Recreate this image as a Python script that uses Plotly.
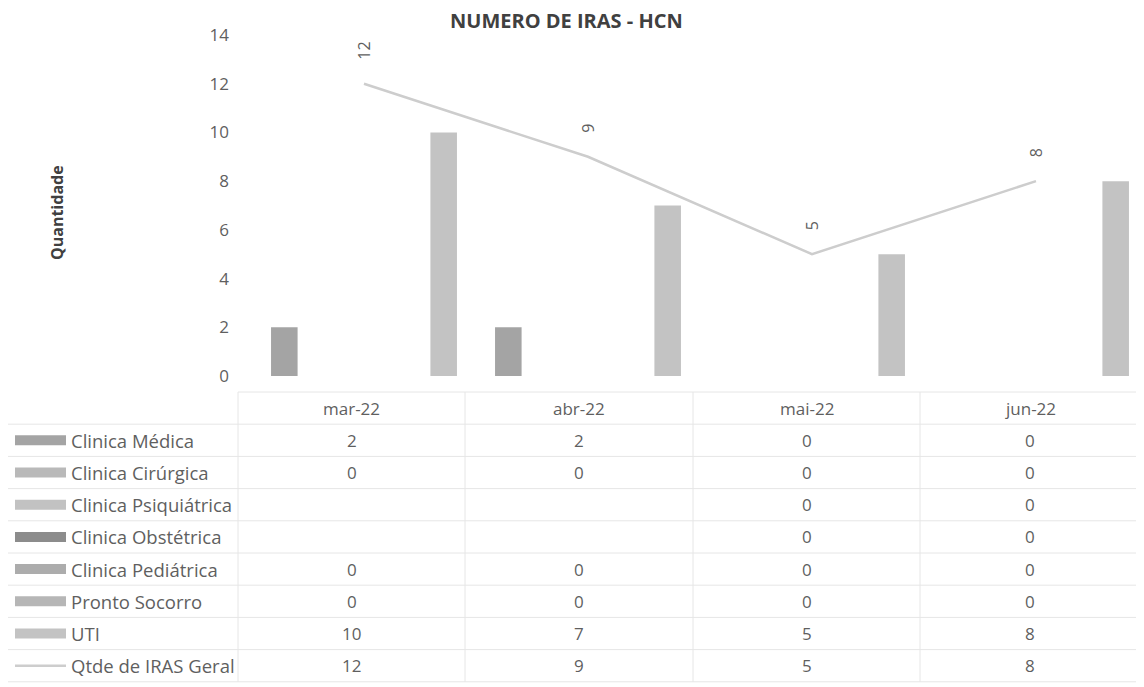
import plotly.graph_objects as go

W, H = 1144, 687
OFF = 8  # default page margin of the html body

months = ["mar-22", "abr-22", "mai-22", "jun-22"]
series_names = ["Clinica Médica", "Clinica Cirúrgica", "Clinica Psiquiátrica",
                "Clinica Obstétrica", "Clinica Pediátrica", "Pronto Socorro", "UTI"]
clinica_medica = [2, 2, 0, 0]
clinica_cirurgica = [0, 0, 0, 0]
clinica_psiquiatrica = [None, None, 0, 0]
clinica_obstetrica = [None, None, 0, 0]
clinica_pediatrica = [0, 0, 0, 0]
pronto_socorro = [0, 0, 0, 0]
uti = [10, 7, 5, 8]
line_name = "Qtde de IRAS Geral"
qtde_geral = [12, 9, 5, 8]

series_values = [clinica_medica, clinica_cirurgica, clinica_psiquiatrica,
                 clinica_obstetrica, clinica_pediatrica, pronto_socorro, uti]
bar_colors = ["#a4a4a4", "#b9b9b9", "#c2c2c2", "#8c8c8c", "#acacac", "#b6b6b6", "#c3c3c3"]
line_color = "#cdcdcd"

FONT = "'Open Sans', sans-serif"
TXT = "#5f5f5f"
DARK = "#404040"


def px(x):
    return (x - OFF) / W


def py(y):
    return 1 - (y - OFF) / H


plot_left, plot_top, plot_bottom = 252, 35, 376
cat_w = 224

fig = go.Figure()
for name, vals, col in zip(series_names, series_values, bar_colors):
    fig.add_trace(go.Bar(x=months, y=vals, name=name, marker=dict(color=col, line=dict(width=0)),
                         showlegend=False))
fig.add_trace(go.Scatter(x=months, y=qtde_geral, name=line_name, mode="lines",
                         line=dict(color=line_color, width=2.5), showlegend=False))

# rotated data labels for the line
for m, v in zip(months, qtde_geral):
    s = str(v)
    fig.add_annotation(x=m, y=v, xref="x", yref="y", text=s, showarrow=False,
                       textangle=-90, yshift=23 + 5 * len(s),
                       font=dict(family=FONT, size=16, color=TXT))

n_cats = (W + OFF - plot_left) / cat_w
fig.update_layout(
    width=W, height=H,
    margin=dict(l=0, r=0, t=0, b=0),
    paper_bgcolor="white", plot_bgcolor="white",
    barmode="group", bargap=0.17, bargroupgap=0,
    font=dict(family=FONT, color=TXT),
    xaxis=dict(domain=[px(plot_left), 1], range=[-0.5, -0.5 + n_cats],
               showticklabels=False, showgrid=False, zeroline=False, showline=False,
               ticks="", automargin=False, type="category"),
    yaxis=dict(domain=[py(plot_bottom), py(plot_top)], range=[0, 14], dtick=2,
               showgrid=False, zeroline=False, showline=False, ticks="",
               tickfont=dict(family=FONT, size=17, color=TXT),
               ticklabelstandoff=22, automargin=False),
)

# title & y title
fig.add_annotation(x=px(566), y=py(20), xref="paper", yref="paper", text="<b>NUMERO DE IRAS - HCN</b>",
                   showarrow=False, font=dict(family=FONT, size=20, color=DARK),
                   xanchor="center", yanchor="middle", borderpad=0)
fig.add_annotation(x=px(57), y=py(213), xref="paper", yref="paper", text="<b>Quantidade</b>",
                   showarrow=False, textangle=-90, font=dict(family=FONT, size=16, color=DARK),
                   xanchor="center", yanchor="middle")

# data table
grid = "#e6e6e6"
col_edges = [238, 465, 693, 920, W + OFF]
col_centers = [(a + b) / 2 for a, b in zip(col_edges[:-1], col_edges[1:-1])] + [1030]
row_h = 32.2
top = 392
header_center = top + row_h / 2
n_rows = 8

for i in range(n_rows + 2):
    y = top + i * row_h
    x0 = 238 if i == 0 else 0
    fig.add_shape(type="line", xref="paper", yref="paper", x0=px(x0), x1=1,
                  y0=py(y), y1=py(y), line=dict(color=grid, width=1))
for xe in col_edges[:-1]:
    fig.add_shape(type="line", xref="paper", yref="paper", x0=px(xe), x1=px(xe),
                  y0=py(top), y1=py(top + (n_rows + 1) * row_h), line=dict(color=grid, width=1))

tfont = dict(family=FONT, size=17, color=TXT)
nfont = dict(family=FONT, size=18.5, color=TXT)
for m, cx in zip(months, col_centers):
    fig.add_annotation(x=px(cx), y=py(header_center), xref="paper", yref="paper", text=m,
                       showarrow=False, font=tfont, xanchor="center", yanchor="middle")

row_names = series_names + [line_name]
row_values = series_values + [qtde_geral]
row_colors = bar_colors + [line_color]
for r, (nm, vals, col) in enumerate(zip(row_names, row_values, row_colors)):
    cy = header_center + (r + 1) * row_h
    if nm == line_name:
        fig.add_shape(type="line", xref="paper", yref="paper", x0=px(15), x1=px(66),
                      y0=py(cy), y1=py(cy), line=dict(color=col, width=2.5))
    else:
        fig.add_shape(type="rect", xref="paper", yref="paper", x0=px(15), x1=px(66),
                      y0=py(cy - 5), y1=py(cy + 5), line=dict(width=0), fillcolor=col)
    fig.add_annotation(x=px(69), y=py(cy), xref="paper", yref="paper", text=nm,
                       showarrow=False, font=nfont, xanchor="left", yanchor="middle")
    for v, cx in zip(vals, col_centers):
        if v is None:
            continue
        fig.add_annotation(x=px(cx), y=py(cy), xref="paper", yref="paper", text=str(v),
                           showarrow=False, font=tfont, xanchor="center", yanchor="middle")

fig.write_html("out.html")
